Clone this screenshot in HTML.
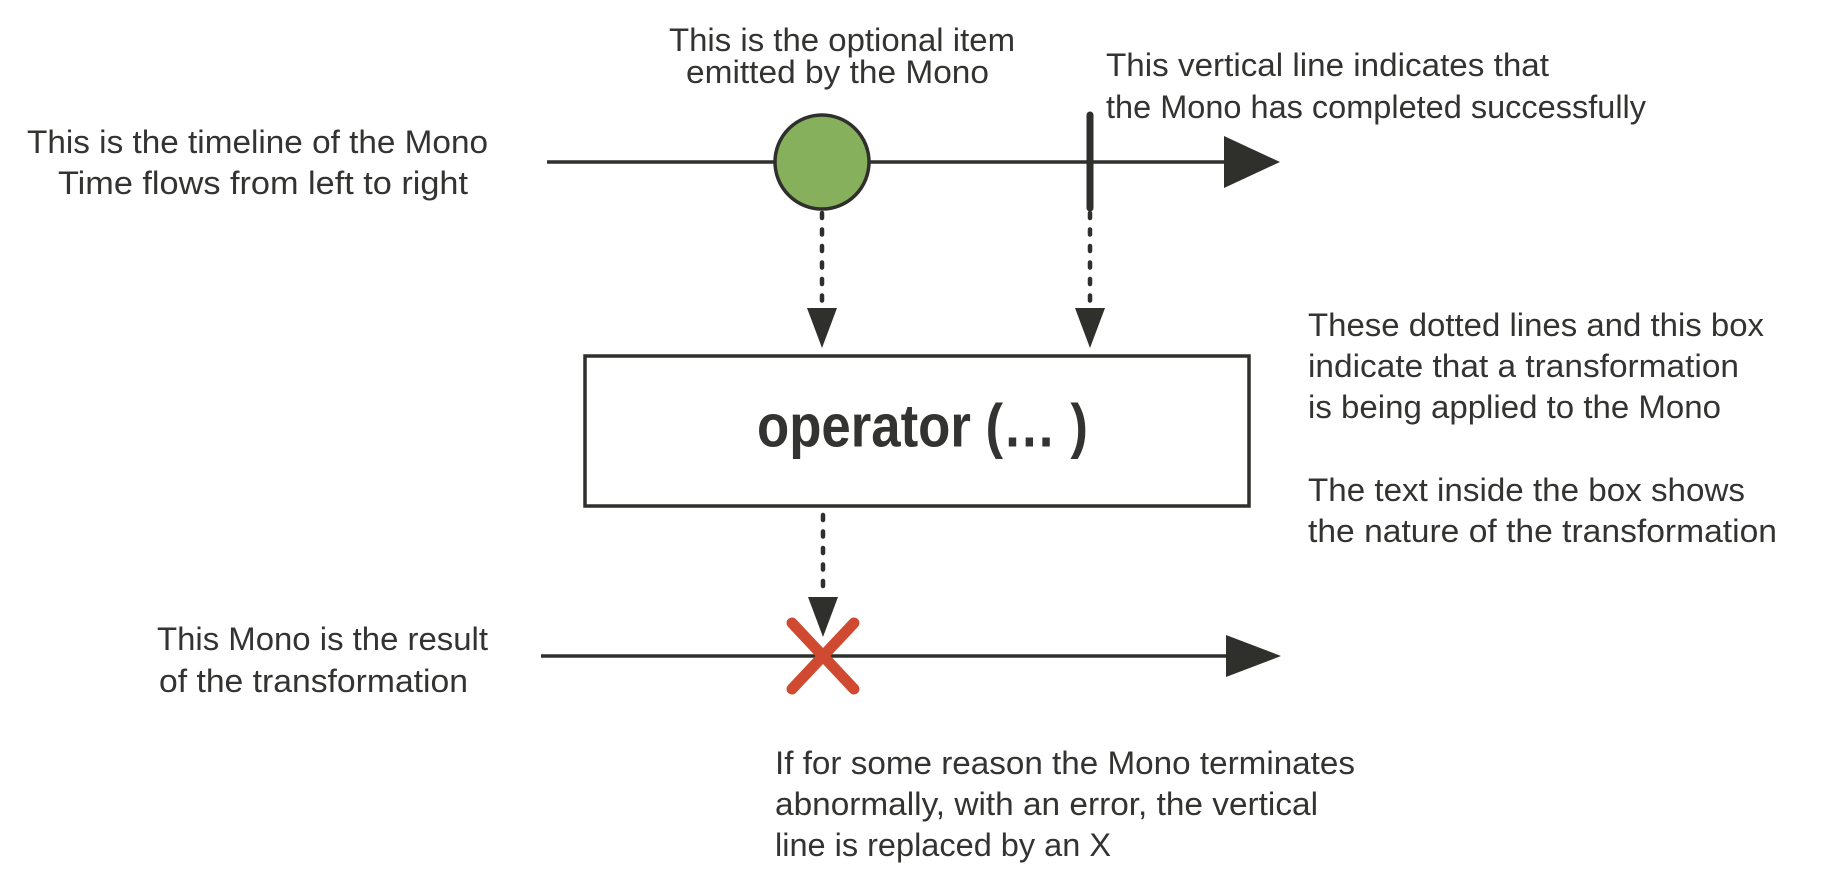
<!DOCTYPE html>
<html><head><meta charset="utf-8"><style>
html,body{margin:0;padding:0;background:#fff;}
svg{display:block;}
text{font-family:"Liberation Sans",sans-serif;font-size:32px;fill:#333331;}
</style></head><body>
<svg width="1824" height="882" viewBox="0 0 1824 882" xmlns="http://www.w3.org/2000/svg">
<g stroke="#2f2f2c" fill="none">
<line x1="547" y1="162" x2="1230" y2="162" stroke-width="3.5"/>
<line x1="541" y1="656" x2="1230" y2="656" stroke-width="3.5"/>
<line x1="822" y1="213" x2="822" y2="304" stroke-width="4.5" stroke-dasharray="5,11.5" stroke-linecap="round"/>
<line x1="1090" y1="213" x2="1090" y2="304" stroke-width="4.5" stroke-dasharray="5,11.5" stroke-linecap="round"/>
<line x1="823" y1="515" x2="823" y2="594" stroke-width="4.5" stroke-dasharray="5,11.5" stroke-linecap="round"/>
<line x1="1090" y1="115" x2="1090" y2="208" stroke-width="7" stroke-linecap="round"/>
<rect x="585" y="356" width="664" height="150" stroke-width="3.5" fill="#fff"/>
</g>
<circle cx="822" cy="162" r="47" fill="#86b05c" stroke="#2f2f2c" stroke-width="3.5"/>
<g fill="#2f2f2c">
<polygon points="1224,136 1280,162 1224,188"/>
<polygon points="1226,635 1281,656 1226,677"/>
<polygon points="807,308 837,308 822,348"/>
<polygon points="1075,308 1105,308 1090,348"/>
<polygon points="808,597 838,597 823,637"/>
</g>
<g stroke="#cf4a30" stroke-width="11" stroke-linecap="round">
<line x1="792" y1="623" x2="854" y2="689"/>
<line x1="854" y1="623" x2="792" y2="689"/>
</g>
<text x="757" y="447" textLength="331" lengthAdjust="spacingAndGlyphs" style="font-weight:bold;font-size:50px;" transform="translate(0,-90) scale(1,1.2)">operator (… )</text>
<text x="27" y="153" textLength="461" lengthAdjust="spacingAndGlyphs">This is the timeline of the Mono</text>
<text x="58" y="194" textLength="410" lengthAdjust="spacingAndGlyphs">Time flows from left to right</text>
<text x="669" y="51" textLength="346" lengthAdjust="spacingAndGlyphs">This is the optional item</text>
<text x="686" y="83" textLength="303" lengthAdjust="spacingAndGlyphs">emitted by the Mono</text>
<text x="1106" y="76" textLength="443" lengthAdjust="spacingAndGlyphs">This vertical line indicates that</text>
<text x="1106" y="118" textLength="540" lengthAdjust="spacingAndGlyphs">the Mono has completed successfully</text>
<text x="1308" y="336" textLength="456" lengthAdjust="spacingAndGlyphs">These dotted lines and this box</text>
<text x="1308" y="377" textLength="431" lengthAdjust="spacingAndGlyphs">indicate that a transformation</text>
<text x="1308" y="418" textLength="413" lengthAdjust="spacingAndGlyphs">is being applied to the Mono</text>
<text x="1308" y="501" textLength="437" lengthAdjust="spacingAndGlyphs">The text inside the box shows</text>
<text x="1308" y="542" textLength="469" lengthAdjust="spacingAndGlyphs">the nature of the transformation</text>
<text x="157" y="650" textLength="331" lengthAdjust="spacingAndGlyphs">This Mono is the result</text>
<text x="159" y="692" textLength="309" lengthAdjust="spacingAndGlyphs">of the transformation</text>
<text x="775" y="774" textLength="580" lengthAdjust="spacingAndGlyphs">If for some reason the Mono terminates</text>
<text x="775" y="815" textLength="543" lengthAdjust="spacingAndGlyphs">abnormally, with an error, the vertical</text>
<text x="775" y="856" textLength="336" lengthAdjust="spacingAndGlyphs">line is replaced by an X</text>
</svg>
</body></html>
